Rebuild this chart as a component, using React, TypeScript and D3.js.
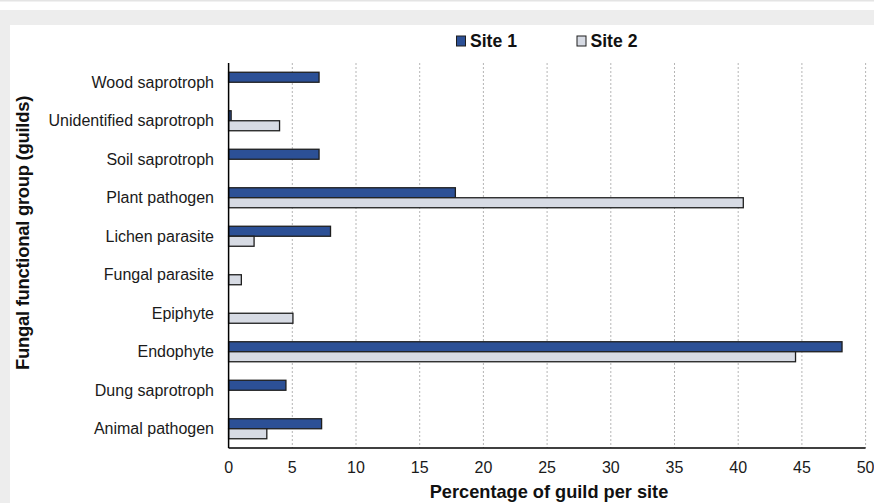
import React from "react";
import * as d3 from "d3";

const guilds = [
  "Wood saprotroph",
  "Unidentified saprotroph",
  "Soil saprotroph",
  "Plant pathogen",
  "Lichen parasite",
  "Fungal parasite",
  "Epiphyte",
  "Endophyte",
  "Dung saprotroph",
  "Animal pathogen",
];
const site1 = [7.1, 0.2, 7.1, 17.8, 8.0, 0, 0, 48.15, 4.5, 7.3];
const site2 = [0, 4.0, 0, 40.4, 2.0, 1.0, 5.05, 44.5, 0, 3.0];
const xTicks = [0, 5, 10, 15, 20, 25, 30, 35, 40, 45, 50];
const seriesNames = ["Site 1", "Site 2"];
const seriesColors = ["#2c5096", "#d7dbe4"];

const W = 874;
const H = 503;
const font = "Liberation Sans, Arial, sans-serif";

const App = () => {
  const x = d3.scaleLinear().domain([0, 50]).range([228.6, 865.6]);
  const y = d3.scaleBand().domain(guilds).range([63, 448]);
  const inner = d3.scaleBand().domain(seriesNames).range([y.bandwidth() / 2 - 10, y.bandwidth() / 2 + 10]);
  const series = [site1, site2];

  return (
    <div style={{ position: "fixed", left: 0, top: 0 }}>
      <svg width={W} height={H} style={{ display: "block" }}>
        <rect x={0} y={0} width={W} height={H} fill="#ffffff" />
        <rect x={0} y={0} width={W} height={1.5} fill="#e4e4e4" />
        <rect x={0} y={10} width={W} height={15} fill="#ededed" />
        <rect x={0} y={10} width={10} height={H - 10} fill="#ededed" />

        {/* grid */}
        {xTicks.slice(1).map((t) => (
          <line key={t} x1={x(t)} x2={x(t)} y1={y.range()[0]} y2={y.range()[1]}
            stroke="#b5b5b5" strokeWidth={1} strokeDasharray="2,2" />
        ))}

        {/* bars */}
        {series.map((vals, si) => (
          <g key={si}>
            {vals.map((v, i) =>
              v > 0 ? (
                <rect key={i}
                  x={x(0)}
                  y={(y(guilds[i]) as number) + (inner(seriesNames[si]) as number)}
                  width={x(v) - x(0)}
                  height={inner.bandwidth()}
                  fill={seriesColors[si]}
                  stroke="#1e1e1e"
                  strokeWidth={1.3} />
              ) : null
            )}
          </g>
        ))}

        {/* axes */}
        <line x1={x(0)} x2={x(0)} y1={y.range()[0]} y2={y.range()[1]} stroke="#000" strokeWidth={1.5} />
        <line x1={x(0)} x2={x(50)} y1={y.range()[1]} y2={y.range()[1]} stroke="#000" strokeWidth={1.5} />

        {/* category labels */}
        {guilds.map((g) => (
          <text key={g} x={214} y={(y(g) as number) + y.bandwidth() / 2} dy="0.35em"
            textAnchor="end" fontFamily={font} fontSize={16} fill="#1a1a1a">{g}</text>
        ))}

        {/* x tick labels */}
        {xTicks.map((t) => (
          <text key={t} x={x(t)} y={467} dy="0.35em" textAnchor="middle"
            fontFamily={font} fontSize={16} fill="#1a1a1a">{t}</text>
        ))}

        <text x={549} y={492} dy="0.35em" textAnchor="middle" fontFamily={font}
          fontSize={18.2} fontWeight="bold" fill="#111">Percentage of guild per site</text>
        <text transform="translate(23,233) rotate(-90)" dy="0.35em" textAnchor="middle"
          fontFamily={font} fontSize={18.5} fontWeight="bold" letterSpacing={-0.3} fill="#111">Fungal functional group (guilds)</text>

        {/* legend */}
        {seriesNames.map((s, i) => (
          <g key={s} transform={`translate(${456 + i * 120.5},0)`}>
            <rect x={0.5} y={36} width={9} height={10} fill={seriesColors[i]} stroke="#1e1e1e" strokeWidth={1} />
            <text x={14} y={41} dy="0.35em" fontFamily={font} fontSize={17.6} fontWeight="bold" fill="#111">{s}</text>
          </g>
        ))}
      </svg>
    </div>
  );
};

export default App;
